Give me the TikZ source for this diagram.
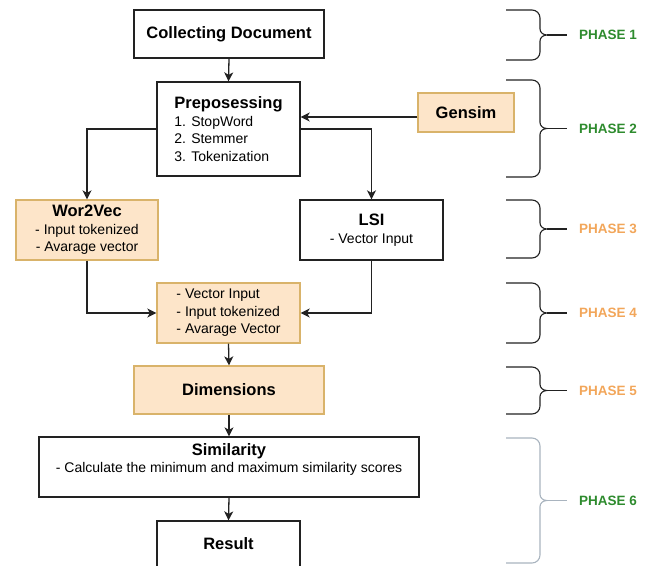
\documentclass[tikz,border=0pt]{standalone}
\usepackage{fontspec}
\setmainfont{Liberation Sans}
\usetikzlibrary{arrows.meta,positioning}
\definecolor{boxfill}{HTML}{FDE5C9}
\definecolor{boxline}{HTML}{D9B36A}
\definecolor{phgreen}{HTML}{2E8B2E}
\definecolor{phorange}{HTML}{F2A65A}
\definecolor{phgray}{HTML}{A9B4BF}
\definecolor{linec}{HTML}{222222}
\newcommand{\phbrace}[3]{%
  \pgfmathsetmacro\phmid{(#1+#2)/2}%
  \draw[#3, line width=1.1pt] (506,#1) -- (532,#1) to[out=0,in=90] (540,#1+8) -- (540,\phmid-6)
     to[out=-90,in=180] (547,\phmid) to[out=180,in=90] (540,\phmid+6) -- (540,#2-8)
     to[out=-90,in=0] (532,#2) -- (506,#2);
  \draw[#3, line width=1.1pt] (547,\phmid) -- (567,\phmid);
}
\tikzset{
  box/.style={draw=linec, line width=1.3pt, fill=white, inner sep=2pt,
    font=\fontsize{14}{17.5}\selectfont, text=black},
  obox/.style={box, draw=boxline, fill=boxfill},
  conn/.style={draw=linec, line width=1.3pt},
  arr/.style={conn, -{Stealth[length=9pt,width=9pt,inset=2.5pt]}},
  phlabel/.style={anchor=west, font=\fontsize{13.5}{16}\selectfont\bfseries, inner sep=0pt}
}
\newcommand{\ttl}[1]{{\fontsize{16.5}{19}\selectfont\bfseries #1}}
\begin{document}
\begin{tikzpicture}[x=1pt,y=-1pt]
\useasboundingbox (0,0) rectangle (652,565);
\begin{scope}
\clip (0,0) rectangle (652,565);
\node[box, minimum width=190pt, minimum height=48pt] (cd) at (229,34) {\ttl{Collecting Document}};
\node[box, minimum width=143pt, minimum height=94pt, align=left] (prep) at (228.5,129)
  {\ttl{Preposessing}\\1. StopWord\\2. Stemmer\\3. Tokenization};
\node[obox, minimum width=96pt, minimum height=39pt] (gen) at (466,112.5) {\ttl{Gensim}};
\node[obox, minimum width=142pt, minimum height=60pt, align=center] (w2v) at (87,230)
  {\ttl{Wor2Vec}\\- Input tokenized\\- Avarage vector};
\node[box, minimum width=143pt, minimum height=60pt, align=center] (lsi) at (371.5,230)
  {\ttl{LSI}\\- Vector Input};
\node[obox, minimum width=143pt, minimum height=60pt, align=left] (mid) at (228.5,313)
  {- Vector Input\\- Input tokenized\\- Avarage Vector};
\node[obox, minimum width=190pt, minimum height=48pt] (dim) at (229,390) {\ttl{Dimensions}};
\node[box, minimum width=380pt, minimum height=60pt, align=center] (sim) at (229,467)
  {\ttl{Similarity}\\- Calculate the minimum and maximum similarity scores\\\mbox{}};
\node[box, minimum width=143pt, minimum height=46pt] (res) at (228.5,544) {\ttl{Result}};

\draw[arr] (cd.south) -- (prep.north);
\draw[arr] ([yshift=-4.5pt]gen.west) -- ([yshift=-4.5pt]gen.west -| prep.east);
\draw[arr] (prep.west) -| (w2v.north);
\draw[arr] (prep.east) -| (lsi.north);
\draw[arr] (w2v.south) |- (mid.west);
\draw[arr] (lsi.south) |- (mid.east);
\draw[arr] (mid.south) -- (dim.north);
\draw[arr] (dim.south) -- (sim.north);
\draw[arr] (sim.south) -- (res.north);
\end{scope}

\phbrace{10}{60}{linec}
\phbrace{80}{177}{linec}
\phbrace{200}{258}{linec}
\phbrace{283}{343}{linec}
\phbrace{367}{414}{linec}
\phbrace{438}{563}{phgray}
\node[phlabel, text=phgreen] (p1) at (579,35) {PHASE 1};
\node[phlabel, text=phgreen] (p2) at (579,128.5) {PHASE 2};
\node[phlabel, text=phorange] (p3) at (579,229) {PHASE 3};
\node[phlabel, text=phorange] (p4) at (579,313) {PHASE 4};
\node[phlabel, text=phorange] (p5) at (579,390.5) {PHASE 5};
\node[phlabel, text=phgreen] (p6) at (579,500.5) {PHASE 6};
\end{tikzpicture}
\end{document}
